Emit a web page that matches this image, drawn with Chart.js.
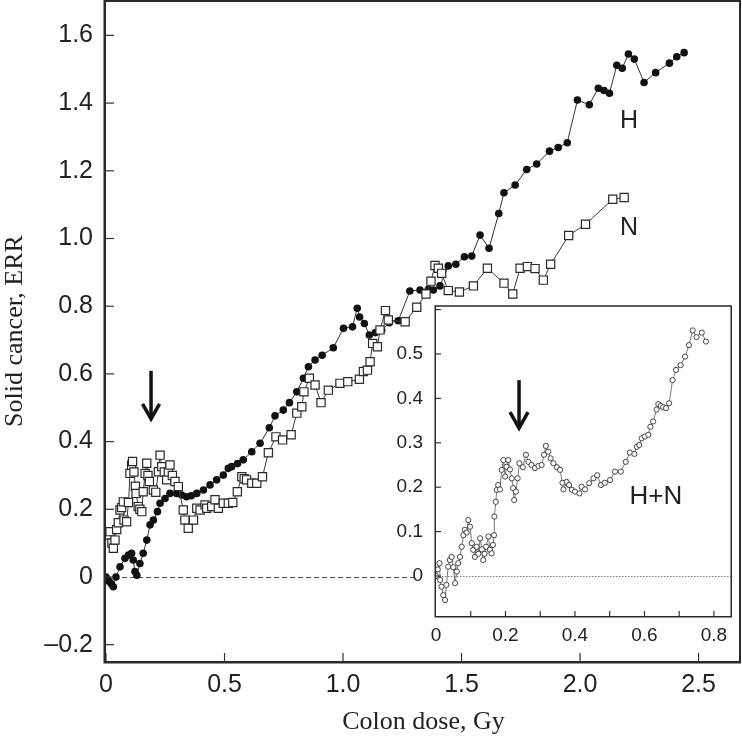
<!DOCTYPE html>
<html>
<head>
<meta charset="utf-8">
<script src="https://cdn.jsdelivr.net/npm/chart.js@4.4.1/dist/chart.umd.min.js"></script>
<style>
  html, body { margin: 0; padding: 0; background: #fff; }
  #wrap { position: relative; width: 742px; height: 738px; }
  #mainChart { position: absolute; left: 0; top: 0; }
  #insetChart { position: absolute; left: 396px; top: 302px; }
</style>
</head>
<body>
<div id="wrap">
  <canvas id="mainChart" width="742" height="738"></canvas>
  <canvas id="insetChart" width="340" height="345"></canvas>
</div>
<script>
// ---- main panel: H (filled circles) ----
const hX = [0, 0.012, 0.022, 0.031, 0.042, 0.059, 0.08, 0.095, 0.108, 0.115,
  0.122, 0.13, 0.143, 0.157, 0.172, 0.186, 0.2, 0.217, 0.228, 0.249,
  0.27, 0.298, 0.319, 0.34, 0.36, 0.383, 0.411, 0.439, 0.467, 0.495,
  0.516, 0.53, 0.555, 0.579, 0.615, 0.65, 0.689, 0.713, 0.748, 0.774,
  0.805, 0.833, 0.854, 0.882, 0.912, 0.959, 1.002, 1.040, 1.060, 1.070,
  1.090, 1.111, 1.137, 1.163, 1.195, 1.233, 1.282, 1.325, 1.360, 1.381,
  1.409, 1.444, 1.476, 1.512, 1.543, 1.578, 1.616, 1.657, 1.679, 1.726,
  1.775, 1.817, 1.871, 1.908, 1.946, 1.989, 2.039, 2.077, 2.101, 2.124,
  2.155, 2.178, 2.204, 2.229, 2.270, 2.319, 2.377, 2.408, 2.439];
const hY = [0, -0.012, -0.02, -0.029, 0.0, 0.03, 0.055, 0.065, 0.07, 0.05,
  0.016, 0.005, 0.04, 0.07, 0.109, 0.154, 0.168, 0.193, 0.218, 0.232,
  0.247, 0.247, 0.242, 0.237, 0.24, 0.247, 0.257, 0.272, 0.287, 0.301,
  0.321, 0.326, 0.335, 0.346, 0.370, 0.395, 0.441, 0.476, 0.493, 0.515,
  0.547, 0.587, 0.621, 0.641, 0.655, 0.677, 0.735, 0.739, 0.794, 0.768,
  0.749, 0.715, 0.722, 0.729, 0.751, 0.757, 0.845, 0.848, 0.850, 0.848,
  0.860, 0.919, 0.924, 0.946, 0.948, 1.010, 0.971, 1.074, 1.135, 1.158,
  1.204, 1.220, 1.258, 1.269, 1.283, 1.409, 1.395, 1.444, 1.437, 1.429,
  1.512, 1.503, 1.545, 1.530, 1.461, 1.490, 1.518, 1.537, 1.549];

// ---- main panel: N (open squares) ----
const nX = [0.005, 0.017, 0.025, 0.031, 0.038, 0.045, 0.052, 0.059, 0.066, 0.073,
  0.076, 0.087, 0.095, 0.101, 0.108, 0.112, 0.118, 0.124, 0.127, 0.136,
  0.143, 0.151, 0.157, 0.165, 0.172, 0.177, 0.183, 0.2, 0.21, 0.221,
  0.228, 0.235, 0.246, 0.256, 0.263, 0.27, 0.28, 0.291, 0.305, 0.326,
  0.333, 0.347, 0.369, 0.383, 0.397, 0.418, 0.425, 0.446, 0.46, 0.474,
  0.495, 0.516, 0.535, 0.554, 0.573, 0.583, 0.593, 0.615, 0.636, 0.660,
  0.685, 0.717, 0.745, 0.781, 0.805, 0.826, 0.835, 0.858, 0.882, 0.907,
  0.938, 0.987, 1.020, 1.069, 1.086, 1.103, 1.114, 1.125, 1.145, 1.156,
  1.179, 1.191, 1.262, 1.311, 1.350, 1.371, 1.388, 1.402, 1.416, 1.444,
  1.491, 1.550, 1.609, 1.679, 1.716, 1.747, 1.778, 1.810, 1.845, 1.876,
  1.952, 2.023, 2.138, 2.186];
const nY = [0.124, 0.134, 0.10, 0.085, 0.109, 0.14, 0.16, 0.198, 0.205, 0.222,
  0.168, 0.163, 0.22, 0.306, 0.33, 0.341, 0.31, 0.268, 0.247, 0.208,
  0.20, 0.193, 0.252, 0.306, 0.336, 0.30, 0.282, 0.257, 0.25, 0.311,
  0.360, 0.326, 0.31, 0.287, 0.31, 0.331, 0.30, 0.282, 0.267, 0.198,
  0.168, 0.144, 0.168, 0.203, 0.198, 0.213, 0.203, 0.208, 0.228, 0.203,
  0.218, 0.218, 0.22, 0.252, 0.296, 0.29, 0.287, 0.277, 0.277, 0.296,
  0.367, 0.414, 0.405, 0.420, 0.484, 0.503, 0.547, 0.587, 0.567, 0.515,
  0.552, 0.572, 0.577, 0.584, 0.607, 0.611, 0.636, 0.690, 0.680, 0.730,
  0.787, 0.759, 0.754, 0.797, 0.836, 0.874, 0.920, 0.912, 0.897, 0.846,
  0.842, 0.860, 0.912, 0.868, 0.836, 0.912, 0.917, 0.911, 0.877, 0.924,
  1.009, 1.042, 1.116, 1.121];

// ---- inset: H+N (small open circles) ----
const hnX = [0, 0.005, 0.01, 0.012, 0.016, 0.021, 0.026, 0.03, 0.035, 0.040,
  0.045, 0.05, 0.055, 0.06, 0.064, 0.069, 0.074, 0.079, 0.083, 0.088,
  0.093, 0.098, 0.103, 0.107, 0.112, 0.117, 0.122, 0.127, 0.132, 0.136,
  0.140, 0.144, 0.151, 0.155, 0.160, 0.164, 0.167, 0.168, 0.172, 0.175,
  0.179, 0.184, 0.189, 0.194, 0.199, 0.203, 0.208, 0.213, 0.218, 0.222,
  0.225, 0.23, 0.235, 0.240, 0.25, 0.259, 0.266, 0.275, 0.285, 0.295,
  0.304, 0.311, 0.316, 0.323, 0.33, 0.338, 0.348, 0.357, 0.364, 0.367,
  0.376, 0.383, 0.391, 0.400, 0.413, 0.419, 0.429, 0.441, 0.453, 0.464,
  0.475, 0.486, 0.501, 0.515, 0.532, 0.546, 0.558, 0.571, 0.578, 0.585,
  0.592, 0.601, 0.611, 0.617, 0.625, 0.635, 0.640, 0.647, 0.654, 0.662,
  0.671, 0.681, 0.691, 0.704, 0.717, 0.728, 0.739, 0.750, 0.765, 0.777];
const hnY = [0, 0.015, 0.029, -0.009, -0.024, -0.043, -0.054, -0.02, 0.021, 0.036,
  0.043, 0.02, -0.016, 0.01, 0.029, 0.043, 0.066, 0.092, 0.104, 0.098,
  0.126, 0.111, 0.074, 0.059, 0.043, 0.066, 0.05, 0.085, 0.06, 0.036,
  0.05, 0.066, 0.089, 0.059, 0.051, 0.07, 0.092, 0.134, 0.167, 0.194,
  0.205, 0.195, 0.239, 0.261, 0.224, 0.246, 0.261, 0.24, 0.220, 0.198,
  0.171, 0.19, 0.22, 0.254, 0.245, 0.273, 0.257, 0.25, 0.243, 0.248,
  0.250, 0.273, 0.293, 0.280, 0.265, 0.254, 0.245, 0.239, 0.210, 0.195,
  0.212, 0.205, 0.194, 0.190, 0.186, 0.201, 0.195, 0.209, 0.220, 0.227,
  0.205, 0.210, 0.216, 0.235, 0.235, 0.257, 0.278, 0.275, 0.291, 0.295,
  0.310, 0.314, 0.318, 0.336, 0.348, 0.375, 0.387, 0.383, 0.380, 0.378,
  0.389, 0.441, 0.464, 0.475, 0.494, 0.520, 0.553, 0.538, 0.548, 0.528];

// ---- ticks ----
const xTicks = [0, 0.5, 1.0, 1.5, 2.0, 2.5];
const xTickLabels = ['0', '0.5', '1.0', '1.5', '2.0', '2.5'];
const yTicks = [-0.2, 0, 0.2, 0.4, 0.6, 0.8, 1.0, 1.2, 1.4, 1.6];
const yTickLabels = ['\u20130.2', '0', '0.2', '0.4', '0.6', '0.8', '1.0', '1.2', '1.4', '1.6'];
const insetXTicks = [0, 0.2, 0.4, 0.6, 0.8];
const insetXTickLabels = ['0', '0.2', '0.4', '0.6', '0.8'];
const insetYTicks = [0, 0.1, 0.2, 0.3, 0.4, 0.5];
const insetYTickLabels = ['0', '0.1', '0.2', '0.3', '0.4', '0.5'];
const insetXMarks = [0.1, 0.2, 0.3, 0.4, 0.5, 0.6, 0.7, 0.8];
const insetYMarks = [0, 0.1, 0.2, 0.3, 0.4, 0.5, 0.6];

// ---- annotations (data coordinates) ----
const mainArrow = { x: 0.19, top: 0.609, tip: 0.467 };
const insetArrow = { x: 0.239, top: 0.441, tip: 0.333 };
const mainLabels = [{ text: 'H', x: 2.207, y: 1.347 }, { text: 'N', x: 2.207, y: 1.031 }];
const insetLabels = [{ text: 'H+N', x: 0.633, y: 0.178 }];
const mainZeroEnd = 1.315; // main dashed line stops at the inset's "0" label

const SANS = "'Liberation Sans', Arial, sans-serif";
const SERIF = "'Liberation Serif', 'Times New Roman', serif";
const INK = '#222';

function toPoints(xs, ys) {
  return xs.map((x, i) => ({ x: x, y: ys[i] }));
}

// keep the plot box where we put it: no extra room for edge labels
function fixX(h) {
  return s => { s.height = h; s.paddingLeft = 0; s.paddingRight = 0; };
}
function fixY(w) {
  return s => { s.width = w; s.paddingTop = 0; s.paddingBottom = 0; };
}

function drawArrow(ctx, x, yTop, yTip, half, head) {
  ctx.save();
  ctx.strokeStyle = '#111';
  ctx.lineWidth = 3.5;
  ctx.lineJoin = 'miter';
  ctx.beginPath();
  ctx.moveTo(x, yTop);
  ctx.lineTo(x, yTip - 3);
  ctx.stroke();
  ctx.beginPath();
  ctx.moveTo(x - half, yTip - head);
  ctx.lineTo(x, yTip);
  ctx.lineTo(x + half, yTip - head);
  ctx.stroke();
  ctx.restore();
}

// draws the frame, inward ticks, zero line, arrow and series labels
function makeDecor(opts) {
  return {
    id: 'decor',
    beforeDraw(chart) {
      if (!opts.fillArea) return;
      const { ctx, chartArea: a } = chart;
      ctx.save();
      ctx.fillStyle = '#fff';
      ctx.fillRect(a.left, a.top, a.right - a.left, a.bottom - a.top);
      ctx.restore();
    },
    beforeDatasetsDraw(chart) {
      const { ctx, chartArea: a, scales: { x, y } } = chart;
      const y0 = Math.round(y.getPixelForValue(0)) + 0.5;
      const xEnd = opts.zeroEnd != null ? x.getPixelForValue(opts.zeroEnd) : a.right;
      ctx.save();
      ctx.strokeStyle = opts.zeroColor;
      ctx.lineWidth = 1;
      ctx.setLineDash(opts.zeroDash);
      ctx.beginPath();
      ctx.moveTo(a.left, y0);
      ctx.lineTo(xEnd, y0);
      ctx.stroke();
      ctx.restore();
    },
    afterDraw(chart) {
      const { ctx, chartArea: a, scales: { x, y } } = chart;
      ctx.save();
      // inward ticks
      ctx.strokeStyle = '#333';
      ctx.lineWidth = 1.2;
      opts.xMarks.forEach(v => {
        const px = x.getPixelForValue(v);
        ctx.beginPath();
        ctx.moveTo(px, a.bottom);
        ctx.lineTo(px, a.bottom - opts.tickLen);
        ctx.stroke();
      });
      opts.yMarks.forEach(v => {
        const py = y.getPixelForValue(v);
        ctx.beginPath();
        ctx.moveTo(a.left, py);
        ctx.lineTo(a.left + opts.tickLen, py);
        ctx.stroke();
      });
      // frame
      ctx.strokeStyle = '#2a2a2a';
      ctx.lineWidth = opts.frameThin;
      ctx.beginPath();
      ctx.moveTo(a.left, a.top);
      ctx.lineTo(a.right - opts.frameThin / 2, a.top);
      ctx.lineTo(a.right - opts.frameThin / 2, a.bottom);
      ctx.stroke();
      ctx.lineWidth = opts.frameThick;
      ctx.beginPath();
      ctx.moveTo(a.left - opts.frameThick / 2, a.top - opts.frameThin / 2);
      ctx.lineTo(a.left - opts.frameThick / 2, a.bottom + opts.frameThick / 2);
      ctx.lineTo(a.right, a.bottom + opts.frameThick / 2);
      ctx.stroke();
      // arrow
      const ar = opts.arrow;
      drawArrow(ctx, x.getPixelForValue(ar.x), y.getPixelForValue(ar.top), y.getPixelForValue(ar.tip), opts.arrowHalf, opts.arrowHead);
      // labels
      ctx.fillStyle = INK;
      ctx.font = opts.labelFont;
      ctx.textAlign = 'center';
      ctx.textBaseline = 'middle';
      opts.labels.forEach(l => {
        ctx.fillText(l.text, x.getPixelForValue(l.x), y.getPixelForValue(l.y));
      });
      ctx.restore();
    }
  };
}

new Chart(document.getElementById('mainChart'), {
  type: 'scatter',
  data: {
    datasets: [
      {
        label: 'N',
        data: toPoints(nX, nY),
        showLine: true,
        borderColor: '#3a3a3a',
        borderWidth: 1,
        pointStyle: 'rect',
        pointRadius: 5.8,
        pointBackgroundColor: '#fff',
        pointBorderColor: '#2a2a2a',
        pointBorderWidth: 1.2
      },
      {
        label: 'H',
        data: toPoints(hX, hY),
        showLine: true,
        borderColor: '#333',
        borderWidth: 1,
        pointStyle: 'circle',
        pointRadius: 3.8,
        pointBackgroundColor: '#111',
        pointBorderColor: '#111',
        pointBorderWidth: 0
      }
    ]
  },
  options: {
    responsive: false,
    animation: false,
    devicePixelRatio: 1,
    layout: { autoPadding: false, padding: { top: 1, right: 1, left: 0, bottom: 0 } },
    plugins: { legend: { display: false }, tooltip: { enabled: false } },
    scales: {
      x: {
        type: 'linear',
        min: 0,
        max: 2.679,
        grid: { display: false, drawTicks: false },
        border: { display: false },
        afterBuildTicks: s => { s.ticks = xTicks.map(v => ({ value: v })); },
        afterFit: fixX(77),
        ticks: {
          autoSkip: false, maxRotation: 0, padding: 9, color: INK,
          font: { family: SANS, size: 25 },
          callback: (v, i) => xTickLabels[i]
        },
        title: { display: true, text: 'Colon dose, Gy', color: INK, padding: 0, font: { family: SERIF, size: 26 } }
      },
      y: {
        type: 'linear',
        min: -0.2482,
        max: 1.7016,
        grid: { display: false, drawTicks: false },
        border: { display: false },
        afterBuildTicks: s => { s.ticks = yTicks.map(v => ({ value: v })); },
        afterFit: fixY(106),
        ticks: {
          autoSkip: false, padding: 13, color: INK,
          font: { family: SANS, size: 25 },
          callback: (v, i) => yTickLabels[i]
        },
        title: { display: true, text: 'Solid cancer, ERR', color: INK, padding: 0, font: { family: SERIF, size: 26 } }
      }
    }
  },
  plugins: [makeDecor({
    zeroColor: '#555', zeroDash: [5, 3], zeroEnd: mainZeroEnd, tickLen: 8,
    xMarks: xTicks, yMarks: yTicks,
    frameThin: 2, frameThick: 2.5,
    arrow: mainArrow, arrowHalf: 8.5, arrowHead: 15,
    labels: mainLabels, labelFont: '25px ' + SANS
  })]
});

new Chart(document.getElementById('insetChart'), {
  type: 'scatter',
  data: {
    datasets: [{
      label: 'H+N',
      data: toPoints(hnX, hnY),
      showLine: true,
      borderColor: '#555',
      borderWidth: 0.8,
      pointStyle: 'circle',
      pointRadius: 2.6,
      pointBackgroundColor: '#fff',
      pointBorderColor: '#333',
      pointBorderWidth: 0.9
    }]
  },
  options: {
    responsive: false,
    animation: false,
    devicePixelRatio: 1,
    layout: { autoPadding: false, padding: { top: 4, right: 4, left: 0, bottom: 0 } },
    plugins: { legend: { display: false }, tooltip: { enabled: false } },
    scales: {
      x: {
        type: 'linear',
        min: 0,
        max: 0.852,
        grid: { display: false, drawTicks: false },
        border: { display: false },
        afterBuildTicks: s => { s.ticks = insetXTicks.map(v => ({ value: v })); },
        afterFit: fixX(31),
        ticks: {
          autoSkip: false, maxRotation: 0, padding: 8, color: INK,
          font: { family: SANS, size: 19 },
          callback: (v, i) => insetXTickLabels[i]
        }
      },
      y: {
        type: 'linear',
        min: -0.09,
        max: 0.608,
        grid: { display: false, drawTicks: false },
        border: { display: false },
        afterBuildTicks: s => { s.ticks = insetYTicks.map(v => ({ value: v })); },
        afterFit: fixY(40),
        ticks: {
          autoSkip: false, padding: 13, color: INK,
          font: { family: SANS, size: 19 },
          callback: (v, i) => insetYTickLabels[i]
        }
      }
    }
  },
  plugins: [makeDecor({
    fillArea: true,
    zeroColor: '#777', zeroDash: [1.5, 1.5], tickLen: 5,
    xMarks: insetXMarks, yMarks: insetYMarks,
    frameThin: 1.5, frameThick: 1.5,
    arrow: insetArrow, arrowHalf: 9, arrowHead: 16,
    labels: insetLabels, labelFont: '26px ' + SANS
  })]
});
</script>
</body>
</html>
